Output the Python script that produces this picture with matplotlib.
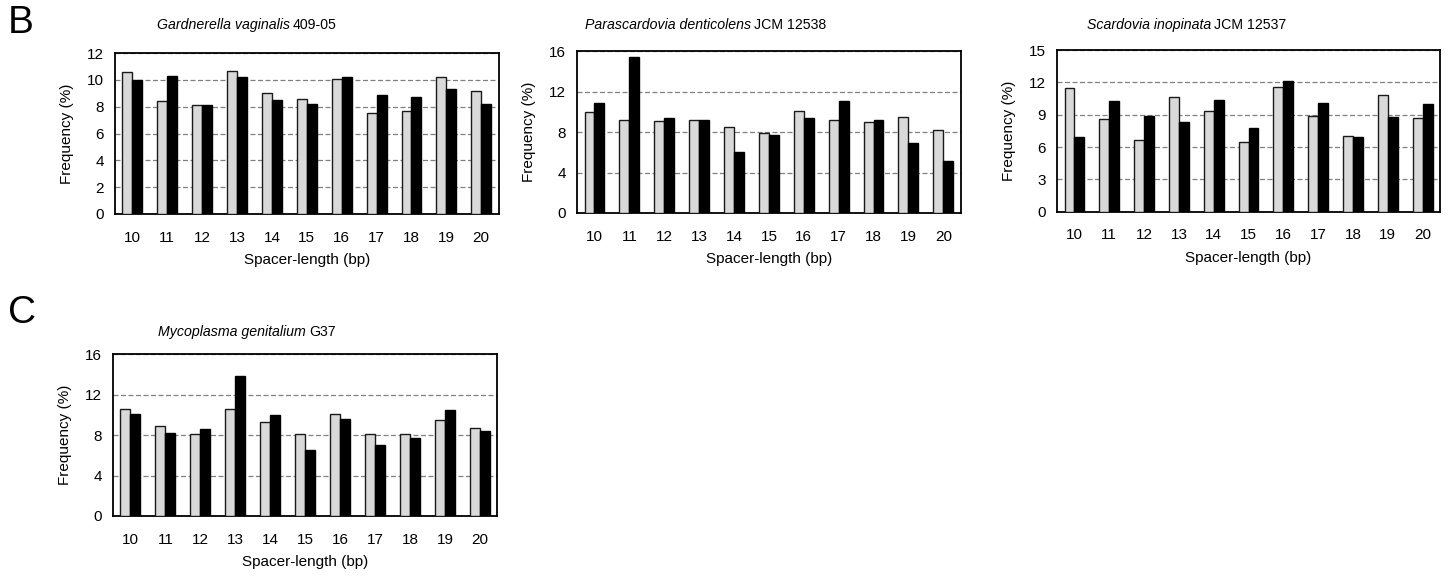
import numpy as np
import matplotlib
matplotlib.use('Agg')
import matplotlib.pyplot as plt

plt.rcParams['font.family'] = ['Liberation Sans', 'DejaVu Sans']

lengths = ['10', '11', '12', '13', '14', '15', '16', '17', '18', '19', '20']

# grey = first series, black = second series
gv_grey = [10.6, 8.4, 8.1, 10.7, 9.0, 8.6, 10.1, 7.5, 7.7, 10.2, 9.2]
gv_black = [10.0, 10.3, 8.1, 10.2, 8.5, 8.2, 10.2, 8.9, 8.7, 9.3, 8.2]

pd_grey = [10.0, 9.2, 9.1, 9.2, 8.5, 7.9, 10.1, 9.2, 9.0, 9.5, 8.2]
pd_black = [10.9, 15.4, 9.4, 9.2, 6.0, 7.7, 9.4, 11.1, 9.2, 6.9, 5.1]

si_grey = [11.5, 8.6, 6.7, 10.6, 9.3, 6.5, 11.6, 8.9, 7.0, 10.8, 8.7]
si_black = [6.9, 10.3, 8.9, 8.3, 10.4, 7.8, 12.1, 10.1, 6.9, 8.8, 10.0]

mg_grey = [10.6, 8.9, 8.1, 10.6, 9.3, 8.1, 10.1, 8.1, 8.1, 9.5, 8.7]
mg_black = [10.1, 8.2, 8.6, 13.8, 10.0, 6.5, 9.6, 7.0, 7.7, 10.5, 8.4]

panels = [
    # species, strain, grey, black, ymax, ystep, axes rect, title x, title y
    ('Gardnerella vaginalis', '409-05', gv_grey, gv_black, 12, 2,
     [0.0794, 0.630, 0.265, 0.278], 157, 25),
    ('Parascardovia denticolens', 'JCM 12538', pd_grey, pd_black, 16, 4,
     [0.3985, 0.6315, 0.265, 0.280], 585, 25),
    ('Scardovia inopinata', 'JCM 12537', si_grey, si_black, 15, 3,
     [0.730, 0.6337, 0.2645, 0.2797], 1087, 25),
    ('Mycoplasma genitalium', 'G37', mg_grey, mg_black, 16, 4,
     [0.078, 0.1073, 0.2655, 0.280], 158, 332),
]

W, H = 1448, 578
fig = plt.figure(figsize=(W / 100, H / 100), dpi=100)

x = np.arange(len(lengths))
w = 0.285
titles = []
for species, strain, grey, black, ymax, ystep, rect, tx, ty in panels:
    ax = fig.add_axes(rect)
    ax.bar(x - w / 2, grey, w, color='#d9d9d9', edgecolor='#1a1a1a', linewidth=1.0, zorder=3)
    ax.bar(x + w / 2, black, w, color='black', edgecolor='black', linewidth=1.0, zorder=3)
    ax.set_xlim(-0.5, len(lengths) - 0.5)
    ax.set_ylim(0, ymax)
    ax.set_yticks(np.arange(0, ymax + 0.1, ystep))
    ax.set_xticks(x)
    ax.set_xticklabels(lengths)
    ax.yaxis.grid(True, linestyle=(0, (4, 2)), color='#808080', linewidth=0.9)
    ax.set_axisbelow(True)
    ax.tick_params(length=0, labelsize=11)
    ax.tick_params(axis='x', pad=12)
    ax.tick_params(axis='y', pad=8)
    for s in ax.spines.values():
        s.set_linewidth(1.3)
    ax.set_xlabel('Spacer-length (bp)', fontsize=11, labelpad=6)
    ax.set_ylabel('Frequency (%)', fontsize=11, labelpad=9)
    t = fig.text(tx / W, 1 - ty / H, species, fontsize=10.2, style='italic', va='center', ha='left')
    titles.append((t, strain))

fig.text(8 / W, 1 - 23 / H, 'B', fontsize=28, va='center', ha='left')
fig.text(8 / W, 1 - 313 / H, 'C', fontsize=28, va='center', ha='left')

fig.canvas.draw()
r = fig.canvas.get_renderer()
for t, strain in titles:
    bb = t.get_window_extent(r)
    x0, y0 = t.get_position()
    fig.text(bb.x1 / W + 3 / W, y0, strain, fontsize=10.2, va='center', ha='left')

fig.savefig('out.png', dpi=100)
